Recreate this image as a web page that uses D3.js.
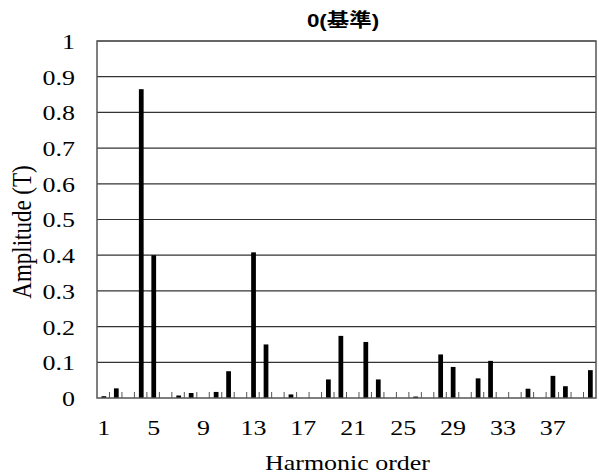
<!DOCTYPE html>
<html><head><meta charset="utf-8">
<script src="https://cdn.jsdelivr.net/npm/d3@7"></script>
<style>body{margin:0;background:#fff}svg{display:block}</style>
</head><body>
<svg id="c" width="599" height="475"></svg>
<script>
const title = "0(基準)";
const xLabel = "Harmonic order";
const yLabel = "Amplitude (T)";
const orders = d3.range(1, 41);
const amplitudes = [0.005,0.027,0,0.865,0.40,0,0.007,0.014,0,0.017,
                    0.075,0,0.408,0.150,0,0.010,0,0,0.052,0.174,
                    0,0.157,0.052,0,0,0.004,0,0.122,0.087,0,
                    0.055,0.104,0,0,0.026,0,0.062,0.033,0,0.078];
const xTickLabels = [1,5,9,13,17,21,25,29,33,37];
const yTicks = [0,0.1,0.2,0.3,0.4,0.5,0.6,0.7,0.8,0.9,1];

const svg = d3.select("#c");
const L = 97, R = 596, T = 41, B = 398;
const SX = 1.18; // horizontal text stretch seen in the reference
const x = d3.scaleBand().domain(orders).range([L, R]).paddingInner(0.62).paddingOuter(0.31);
const xb = d3.scaleLinear().domain([0, orders.length]).range([L, R]);
const y = d3.scaleLinear().domain([0, 1]).range([B, T]);
const serif = "'Liberation Serif','Times New Roman',serif";

// gridlines
svg.append("g").selectAll("line").data(yTicks.slice(1)).join("line")
  .attr("x1", L).attr("x2", R).attr("y1", d => y(d)).attr("y2", d => y(d))
  .attr("stroke", "#333").attr("stroke-width", 1.2);

// bars
svg.append("g").selectAll("rect").data(orders).join("rect")
  .attr("x", d => x(d) + 0.6).attr("width", x.bandwidth())
  .attr("y", (d, i) => y(amplitudes[i])).attr("height", (d, i) => B - y(amplitudes[i]))
  .attr("fill", "#000");

// inner ticks at category boundaries
svg.append("g").selectAll("line").data(d3.range(1, orders.length)).join("line")
  .attr("x1", d => xb(d)).attr("x2", d => xb(d)).attr("y1", B).attr("y2", B - 6)
  .attr("stroke", "#555").attr("stroke-width", 1);

// frame
svg.append("rect").attr("x", L).attr("y", T).attr("width", R - L).attr("height", B - T)
  .attr("fill", "none").attr("stroke", "#555").attr("stroke-width", 1.5);

// y axis labels
const yAxis = d3.axisLeft(y).tickValues(yTicks).tickSize(0)
  .tickFormat(d => d === 0 ? "0" : d === 1 ? "1" : d3.format(".1f")(d));
const gy = svg.append("g").attr("transform", `translate(${L},0)`).call(yAxis);
gy.select(".domain").remove();
gy.selectAll("text").attr("x", 0).attr("dy", "0.34em")
  .attr("transform", `translate(-22,0) scale(${SX},1)`)
  .attr("font-family", serif).attr("font-size", 22).attr("fill", "#000");

// x axis labels
const xAxis = d3.axisBottom(x).tickValues(xTickLabels).tickSize(0);
const gx = svg.append("g").attr("transform", `translate(0,${B})`).call(xAxis);
gx.select(".domain").remove();
gx.selectAll("text").attr("y", 0).attr("dy", 0)
  .attr("transform", `translate(0.5,37) scale(${SX},1)`)
  .attr("font-family", serif).attr("font-size", 22).attr("fill", "#000");

// titles
svg.append("text").attr("transform", `translate(343,27) scale(${SX},1)`).attr("text-anchor", "middle")
  .attr("font-family", "'Liberation Sans','Noto Sans CJK JP',sans-serif")
  .attr("font-weight", "bold").attr("font-size", 19).text(title);
svg.append("text").attr("transform", `translate(347.5,470) scale(${SX},1)`).attr("text-anchor", "middle")
  .attr("font-family", serif).attr("font-size", 22).text(xLabel);
svg.append("text").attr("transform", `translate(31,232) scale(${SX},1) rotate(-90)`).attr("text-anchor", "middle")
  .attr("font-family", serif).attr("font-size", 23).text(yLabel);
</script>
</body></html>
